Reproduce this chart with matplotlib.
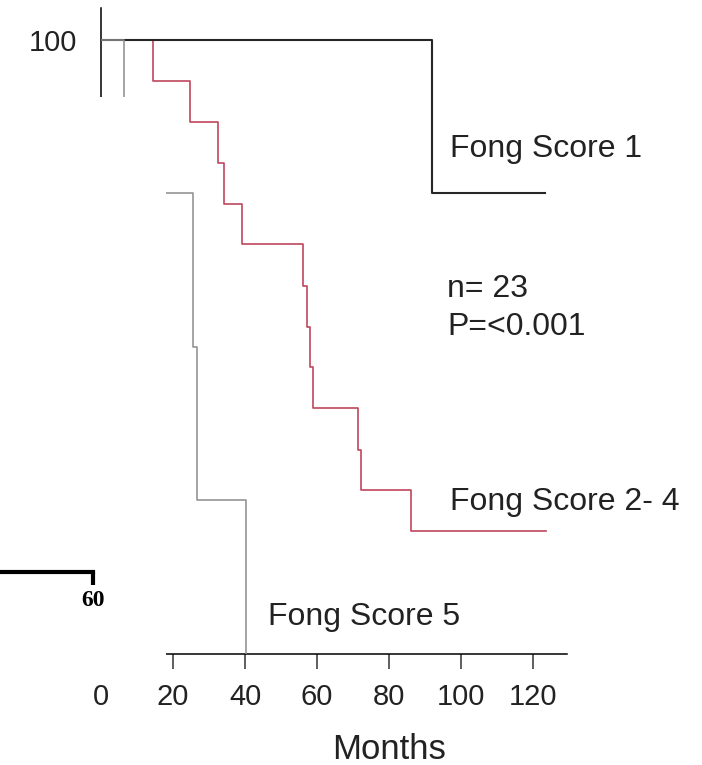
import matplotlib
matplotlib.use("Agg")
import matplotlib.pyplot as plt
from matplotlib.patches import Rectangle

plt.rcParams['font.family'] = ['Liberation Sans', 'DejaVu Sans']

# Kaplan-Meier survival estimates (%), step changes at event times (months)
fong1_months = [0, 92.0, 123.3]
fong1_surv = [100, 75, 75]

fong24_months = [0, 14.4, 24.7, 32.5, 34.2, 39.2, 56.1, 57.2, 58.1, 58.9,
                 71.4, 72.2, 86.1, 123.6]
fong24_surv = [100, 93.3, 86.7, 80.0, 73.3, 66.7, 60.0, 53.3, 46.7, 40.0,
               33.3, 26.7, 20.0, 20.0]

fong5_months = [0, 6.4, 25.6, 26.7, 40.3]
fong5_surv = [100, 75, 50, 25, 0]

x_ticks = [0, 20, 40, 60, 80, 100, 120]
y_ticks = [100]

group_labels = ["Fong Score 1", "Fong Score 2- 4", "Fong Score 5"]
stats_lines = ["n= 23", "P=<0.001"]

TEXT = "#222222"

fig = plt.figure(figsize=(7.02, 7.65), dpi=100)
ax = fig.add_axes([101 / 702, 111 / 765, 466 / 702, 646 / 765])
ax.set_xlim(0, 129.4)
ax.set_ylim(0, 105.2)

# curves
ax.step(fong24_months, fong24_surv, where="post", color="#c0475c", lw=1.2, zorder=2)
ax.step(fong1_months, fong1_surv, where="post", color="#262626", lw=1.5, zorder=3)
ax.step(fong5_months, fong5_surv, where="post", color="#8c8c8c", lw=1.1, zorder=4)

# axes styling
for side in ("top", "right"):
    ax.spines[side].set_visible(False)
ax.spines["left"].set_linewidth(1.1)
ax.spines["bottom"].set_linewidth(1.1)
ax.spines["left"].set_bounds(90.7, 105.2)
ax.spines["bottom"].set_bounds(18.1, 129.4)

ax.set_xticks(x_ticks)
ax.set_xticklabels([str(t) for t in x_ticks])
ax.tick_params(axis="x", direction="out", length=11, width=1.1, pad=10,
               labelsize=21, labelcolor=TEXT, color="#333333")
ax.xaxis.get_major_ticks()[0].tick1line.set_visible(False)

ax.set_yticks(y_ticks)
ax.set_yticklabels([str(t) for t in y_ticks])
ax.tick_params(axis="y", length=0, pad=17, labelsize=21, labelcolor=TEXT)

ax.set_xlabel("Months", fontsize=25, color=TEXT)
ax.xaxis.set_label_coords(0.618, -0.123)
ax.xaxis.label.set_va("top")

# blank panel region on the left
for x0, x1, y1 in ((-30, 13.6, 90.7), (-30, 18.1, 83.0)):
    ax.add_patch(Rectangle((x0, -4.0), x1 - x0, y1 + 4.0, facecolor="white",
                           edgecolor="none", zorder=6, clip_on=False))

# group labels and statistics
ax.text(96.9, 80.9, group_labels[0], fontsize=23, color=TEXT, va="baseline", zorder=7)
ax.text(96.9, 23.5, group_labels[1], fontsize=23, color=TEXT, va="baseline", zorder=7)
ax.text(46.4, 4.7, group_labels[2], fontsize=23, color=TEXT, va="baseline", zorder=7)
ax.text(96.1, 58.1, stats_lines[0], fontsize=23, color=TEXT, va="baseline", zorder=7)
ax.text(96.1, 52.0, stats_lines[1], fontsize=23, color=TEXT, va="baseline", zorder=7)

# axis fragment of a neighbouring panel
ax2 = fig.add_axes([0, (765 - 572) / 765, 93 / 702, 0.01])
ax2.set_xlim(0, 60)
ax2.set_ylim(0, 1)
for side in ("top", "right", "left"):
    ax2.spines[side].set_visible(False)
ax2.spines["bottom"].set_linewidth(3.0)
ax2.spines["bottom"].set_color("black")
ax2.set_yticks([])
ax2.set_xticks([60])
ax2.set_xticklabels(["60"], fontsize=17, fontweight="bold",
                    family=["Liberation Serif", "DejaVu Serif"])
ax2.tick_params(axis="x", direction="out", length=9, width=3.0, pad=4, color="black")
ax2.patch.set_visible(False)
ax2.set_zorder(10)

fig.savefig("out.png", dpi=100, facecolor="white")
